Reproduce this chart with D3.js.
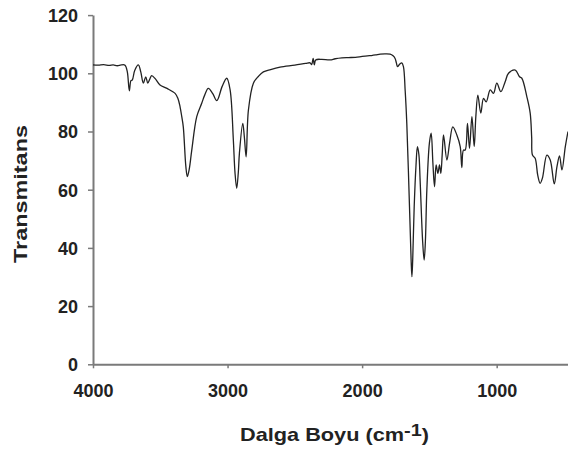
<!DOCTYPE html>
<html><head><meta charset="utf-8">
<script src="https://cdn.jsdelivr.net/npm/d3@7"></script>
<style>body{margin:0;background:#fff}svg{display:block}</style>
</head><body>
<svg id="c" width="568" height="450"></svg>
<script>
const wavenumber = [4000,3960,3920,3880,3850,3820,3790,3762,3745,3730,3718,3708,3690,3663,3645,3626,3608,3593,3578,3564,3535,3502,3450,3390,3370,3353,3340,3329,3310,3299,3285,3266,3229,3192,3170,3143,3110,3080,3040,3006,2981,2957,2945,2932,2920,2912,2887,2875,2862,2845,2808,2770,2734,2680,2610,2500,2420,2387,2375,2364,2355,2345,2300,2238,2200,2150,2100,2050,2000,1960,1930,1900,1866,1830,1792,1770,1755,1745,1737,1720,1705,1693,1680,1668,1648,1636,1630,1624,1613,1600,1589,1578,1569,1550,1539,1530,1519,1500,1487,1474,1462,1450,1437,1425,1415,1405,1395,1370,1350,1326,1296,1271,1259,1247,1234,1217,1202,1184,1167,1155,1140,1118,1098,1078,1048,1024,999,969,937,912,862,830,813,776,751,740,734,714,695,677,660,627,602,572,552,533,515,490,470];
const transmittance = [102.9,102.8,103.0,102.7,102.9,102.6,102.9,102.8,100.5,94.0,97.5,97.7,101.0,102.9,100.5,96.6,98.8,96.6,98.0,99.2,98.0,96.0,94.8,93.1,91.5,88.5,85.0,81.6,68.0,64.5,67.0,73.6,85.1,89.7,92.5,94.8,93.0,90.6,95.5,98.3,94.3,77.1,66.0,60.5,66.0,72.5,82.8,78.0,71.3,87.4,96.6,99.0,100.5,101.3,102.1,102.8,103.4,103.6,103.0,105.1,102.9,104.6,104.8,104.6,105.0,105.3,105.4,105.5,105.8,106.0,106.1,106.3,106.6,106.7,106.6,106.0,105.1,103.5,102.3,103.2,103.6,102.3,94.0,82.8,54.2,36.0,30.1,36.0,54.2,68.0,74.8,72.0,63.3,42.0,35.8,42.0,59.9,76.0,79.4,69.1,61.0,68.5,65.6,68.5,65.6,72.0,78.8,70.2,76.0,81.6,78.8,74.8,67.6,73.6,73.6,82.8,74.2,85.1,74.8,85.1,92.5,86.3,91.4,90.2,94.3,93.1,96.6,93.7,97.1,100.0,101.1,98.8,98.3,92.0,86.3,78.0,71.9,70.8,65.0,62.2,64.0,71.9,70.2,62.0,67.9,71.6,66.8,74.8,80.0];
const yTicks = [0,20,40,60,80,100,120];
const xTicks = [4000,3000,2000,1000];

const svg = d3.select("#c");
const x = d3.scaleLinear().domain([4000,470]).range([93,568]);
const y = d3.scaleLinear().domain([0,120]).range([364.3,15.1]);
const font = "'Liberation Sans', Arial, sans-serif";
const axisColor = "#7a7a7a";

// y axis
const gy = svg.append("g").attr("transform","translate(93,0)")
  .call(d3.axisLeft(y).tickValues(yTicks).tickSize(5).tickPadding(10).tickSizeOuter(0));
gy.select(".domain").attr("stroke",axisColor).attr("stroke-width",2);
gy.selectAll(".tick line").attr("stroke",axisColor).attr("stroke-width",1.5);
gy.selectAll(".tick text").attr("font-family",font).attr("font-weight","bold").attr("font-size","18px").attr("fill","#222").attr("dy","0.36em");

// x axis
const gx = svg.append("g").attr("transform","translate(0,364.3)")
  .call(d3.axisBottom(x).tickValues(xTicks).tickSize(4).tickPadding(16).tickSizeOuter(0).tickFormat(d3.format("d")));
gx.select(".domain").attr("stroke",axisColor).attr("stroke-width",2);
gx.selectAll(".tick line").attr("stroke",axisColor).attr("stroke-width",1.5);
gx.selectAll(".tick text").attr("font-family",font).attr("font-weight","bold").attr("font-size","18px").attr("fill","#222");

// line
const data = wavenumber.map((w,i)=>[w,transmittance[i]]);
svg.append("path").datum(data)
  .attr("fill","none").attr("stroke","#222").attr("stroke-width",1.3)
  .attr("d", d3.line().x(d=>x(d[0])).y(d=>y(d[1])).curve(d3.curveCatmullRom.alpha(0.5)));

// titles
svg.append("text").attr("transform","translate(27,194) rotate(-90)")
  .attr("text-anchor","middle").attr("font-family",font).attr("font-weight","bold").attr("font-size","18.5px").attr("fill","#222")
  .attr("textLength",138).attr("lengthAdjust","spacingAndGlyphs").text("Transmitans");

const xt = svg.append("text").attr("x",240).attr("y",441)
  .attr("font-family",font).attr("font-weight","bold").attr("font-size","18.5px").attr("fill","#222")
  .attr("textLength",189).attr("lengthAdjust","spacingAndGlyphs");
xt.append("tspan").text("Dalga Boyu (cm");
xt.append("tspan").attr("dy",-5).attr("font-size","17px").text("-1");
xt.append("tspan").attr("dy",5).text(")");
</script>
</body></html>
